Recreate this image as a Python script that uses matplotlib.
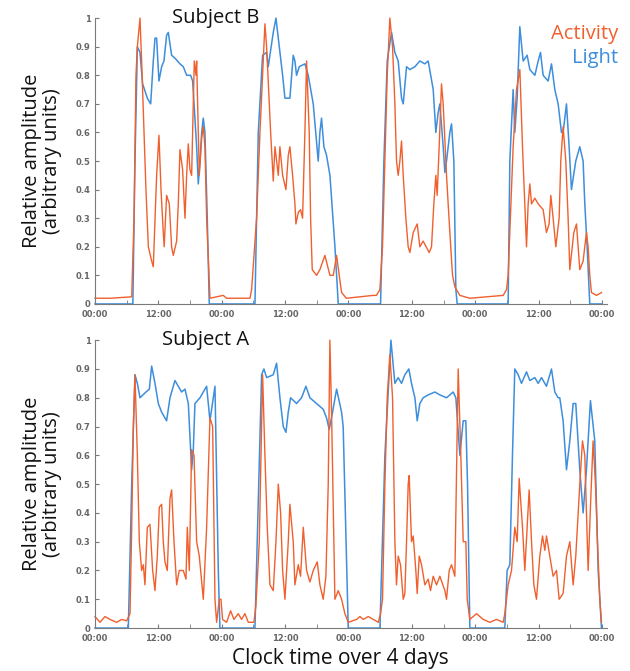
import matplotlib.pyplot as plt
from matplotlib.ticker import FixedLocator

# hours since first midnight, relative amplitude
b_act_t = [0, 2.84, 6.95, 7.39, 7.76, 8.02, 8.52, 8.83, 9.28, 9.65, 10.1, 10.73, 11.04, 11.67, 12.11,
           12.5, 12.93, 13.1, 13.56, 14.07, 14.51, 14.83, 15.46, 15.77, 16.09, 16.59, 17.04, 17.35,
           17.67, 17.98, 18.3, 18.8, 19.12, 19.25, 19.75, 20.2, 20.5, 20.82, 21.14, 21.77, 24.29,
           24.92, 29.34, 29.66, 30.6, 31.24, 32.18, 32.5, 33.0, 33.26, 33.76, 34.08, 34.39, 34.71,
           35.02, 35.53, 36.16, 36.6, 36.91, 37.42, 37.86, 38.05, 38.49, 38.93, 39.31, 39.75, 40.07,
           40.57, 40.83, 41.14, 41.96, 42.59, 43.54, 44.49, 45.12, 45.75, 46.25, 46.7, 47.6, 52.7,
           53.3, 53.95, 54.45, 54.9, 55.34, 55.84, 56.35, 56.79, 57.1, 57.42, 57.74, 58.05, 58.37,
           58.87, 59.31, 59.63, 60.26, 61.02, 61.52, 62.15, 63.29, 63.73, 64.17, 64.55, 64.8, 65.18,
           65.62, 65.94, 66.57, 67.2, 67.71, 68.15, 68.47, 69.1, 71.0, 77.3, 77.93, 78.24, 78.88,
           79.19, 79.83, 80.46, 80.96, 81.4, 81.72, 82.03, 82.35, 82.67, 83.3, 83.93, 84.87, 85.5,
           86.0, 86.32, 86.76, 87.27, 87.9, 88.21, 88.65, 89.16, 89.6, 89.92, 90.68, 91.18, 91.81,
           92.44, 93.07, 93.39, 93.7, 94.02, 94.97, 95.92]
b_act_v = [0.02, 0.02, 0.025, 0.3, 0.8, 0.9, 1.0, 0.85, 0.6, 0.4, 0.2, 0.15, 0.13, 0.45, 0.59,
           0.4, 0.25, 0.2, 0.38, 0.35, 0.2, 0.17, 0.22, 0.35, 0.54, 0.47, 0.3, 0.45,
           0.56, 0.47, 0.45, 0.85, 0.8, 0.85, 0.45, 0.58, 0.62, 0.55, 0.3, 0.02, 0.03,
           0.02, 0.02, 0.05, 0.3, 0.6, 0.98, 0.9, 0.7, 0.6, 0.43, 0.55, 0.5, 0.45,
           0.55, 0.45, 0.4, 0.52, 0.55, 0.45, 0.35, 0.28, 0.32, 0.33, 0.3, 0.6, 0.85,
           0.6, 0.3, 0.12, 0.1, 0.12, 0.17, 0.1, 0.1, 0.17, 0.1, 0.04, 0.02, 0.03,
           0.03, 0.05, 0.2, 0.5, 0.8, 1.0, 0.9, 0.7, 0.5, 0.45, 0.5, 0.57, 0.45,
           0.3, 0.2, 0.18, 0.25, 0.28, 0.2, 0.22, 0.18, 0.2, 0.35, 0.45, 0.38, 0.55,
           0.77, 0.7, 0.45, 0.25, 0.1, 0.06, 0.05, 0.03, 0.02, 0.03, 0.05, 0.1, 0.4,
           0.55, 0.75, 0.82, 0.55, 0.35, 0.2, 0.35, 0.42, 0.35, 0.37, 0.35, 0.33, 0.25,
           0.28, 0.38, 0.3, 0.2, 0.3, 0.5, 0.62, 0.5, 0.3, 0.12, 0.25, 0.28, 0.12,
           0.15, 0.25, 0.2, 0.1, 0.04, 0.03, 0.04]

b_light_t = [0, 7.17, 7.57, 8.02, 8.52, 9.02, 9.91, 10.54, 11.04, 11.36, 11.67, 12.11, 12.62, 13.06,
             13.56, 13.88, 14.51, 15.14, 16.09, 16.72, 17.35, 18.11, 18.49, 19.25, 19.56, 19.88,
             20.2, 20.5, 20.82, 21.26, 21.64, 30.29, 30.92, 31.74, 32.5, 32.81, 33.76, 34.27, 34.9,
             35.53, 35.97, 36.91, 37.54, 37.86, 38.17, 38.68, 39.75, 40.38, 41.33, 42.27, 42.59,
             42.9, 43.35, 43.85, 44.49, 45.44, 46.07, 54.08, 54.71, 55.34, 56.16, 56.79, 57.42,
             58.05, 58.37, 59.0, 59.63, 60.58, 61.52, 62.47, 63.1, 64.05, 64.55, 64.99, 65.31,
             65.94, 66.26, 66.57, 67.2, 67.52, 67.96, 68.34, 68.59, 78.24, 78.56, 79.19, 79.5,
             79.95, 80.45, 81.08, 81.84, 82.35, 83.3, 83.93, 84.37, 84.87, 85.82, 86.45, 87.08,
             87.71, 88.34, 88.65, 89.29, 89.79, 90.23, 91.05, 91.81, 92.44, 92.76, 93.2, 93.7, 96]
b_light_v = [0, 0, 0.5, 0.9, 0.88, 0.77, 0.72, 0.7, 0.85, 0.93, 0.93, 0.78, 0.83, 0.85,
             0.94, 0.95, 0.87, 0.86, 0.84, 0.83, 0.8, 0.8, 0.78, 0.55, 0.42, 0.5,
             0.6, 0.65, 0.6, 0.3, 0, 0, 0.6, 0.87, 0.88, 0.83, 0.95, 1.0, 0.9,
             0.8, 0.72, 0.72, 0.87, 0.85, 0.8, 0.83, 0.84, 0.8, 0.7, 0.5, 0.6,
             0.65, 0.55, 0.52, 0.45, 0.2, 0, 0, 0.5, 0.85, 0.95, 0.88, 0.85,
             0.72, 0.7, 0.83, 0.82, 0.83, 0.85, 0.84, 0.85, 0.75, 0.6, 0.67, 0.7,
             0.55, 0.46, 0.5, 0.6, 0.63, 0.5, 0.05, 0, 0, 0.5, 0.75, 0.6,
             0.72, 0.97, 0.85, 0.87, 0.82, 0.8, 0.85, 0.88, 0.8, 0.78, 0.84, 0.75,
             0.7, 0.6, 0.6, 0.7, 0.55, 0.4, 0.5, 0.55, 0.5, 0.35, 0.2, 0, 0]

a_act_t = [0, 0.95, 1.89, 2.84, 4.1, 5.05, 6.0, 6.63, 6.95, 7.26, 7.57, 8.02, 8.39, 8.83, 9.15, 9.46,
           9.91, 10.41, 10.92, 11.36, 11.8, 12.18, 12.62, 12.93, 13.25, 13.69, 14.2, 14.51, 14.96,
           15.46, 15.96, 16.72, 17.23, 17.48, 17.86, 18.3, 18.75, 19.25, 19.75, 20.51, 21.14, 21.77,
           22.28, 22.72, 23.03, 23.54, 23.85, 24.16, 24.92, 25.68, 26.31, 27.13, 27.76, 28.39, 29.03,
           30.1, 30.48, 31.11, 31.74, 32.18, 32.62, 33.13, 33.76, 34.27, 34.71, 35.15, 35.53, 35.97,
           36.6, 36.91, 37.54, 37.86, 38.49, 38.93, 39.44, 40.07, 40.7, 41.33, 42.09, 42.59, 43.22,
           43.73, 44.17, 44.48, 44.8, 45.43, 46.07, 46.7, 47.33, 47.96, 49.54, 50.17, 50.8, 51.75,
           52.7, 53.65, 54.08, 54.45, 54.9, 55.34, 55.84, 56.35, 56.79, 57.1, 57.42, 57.86, 58.37,
           58.68, 59.0, 59.31, 59.5, 59.94, 60.26, 60.76, 61.02, 61.4, 61.84, 62.47, 63.1, 63.54,
           64.05, 64.68, 65.31, 66.26, 66.57, 67.08, 67.52, 68.15, 68.78, 69.28, 69.73, 70.23, 70.49,
           70.99, 72.25, 73.52, 74.78, 76.04, 77.3, 77.61, 78.24, 78.88, 79.5, 79.95, 80.33, 80.96,
           81.4, 82.22, 82.67, 83.11, 83.61, 84.24, 84.75, 85.19, 85.5, 86.13, 86.76, 87.4, 87.9,
           88.65, 89.29, 89.92, 90.55, 91.05, 91.5, 91.81, 92.32, 92.76, 93.39, 93.89, 94.33, 94.78,
           95.16, 95.6, 95.92]
a_act_v = [0.04, 0.02, 0.04, 0.03, 0.02, 0.03, 0.025, 0.05, 0.35, 0.7, 0.88, 0.6, 0.3, 0.2, 0.22, 0.15,
           0.35, 0.36, 0.2, 0.13, 0.25, 0.42, 0.43, 0.3, 0.23, 0.2, 0.45, 0.48, 0.3,
           0.15, 0.2, 0.2, 0.17, 0.35, 0.2, 0.62, 0.6, 0.3, 0.25, 0.1, 0.35, 0.73,
           0.7, 0.1, 0.02, 0.1, 0.1, 0.03, 0.02, 0.06, 0.03, 0.05, 0.03, 0.05, 0.02,
           0.02, 0.08, 0.3, 0.88, 0.6, 0.35, 0.15, 0.13, 0.3, 0.5, 0.4, 0.2, 0.1,
           0.3, 0.43, 0.3, 0.15, 0.22, 0.18, 0.35, 0.2, 0.16, 0.2, 0.23, 0.15, 0.1,
           0.18, 0.5, 1.0, 0.75, 0.1, 0.13, 0.1, 0.05, 0.02, 0.03, 0.04, 0.03, 0.04,
           0.03, 0.02, 0.05, 0.1, 0.5, 0.8, 0.95, 0.8, 0.3, 0.15, 0.25, 0.22, 0.1,
           0.12, 0.3, 0.5, 0.53, 0.3, 0.32, 0.2, 0.12, 0.25, 0.22, 0.15, 0.17, 0.13,
           0.18, 0.15, 0.18, 0.13, 0.1, 0.2, 0.22, 0.18, 0.9, 0.6, 0.3, 0.3, 0.1,
           0.03, 0.05, 0.03, 0.02, 0.03, 0.02, 0.05, 0.15, 0.2, 0.35, 0.3, 0.52, 0.35,
           0.2, 0.48, 0.3, 0.15, 0.1, 0.25, 0.32, 0.27, 0.32, 0.25, 0.18, 0.2, 0.1,
           0.12, 0.25, 0.3, 0.15, 0.25, 0.4, 0.5, 0.65, 0.6, 0.2, 0.45, 0.65, 0.5,
           0.3, 0.1, 0.02]

a_light_t = [0, 6.31, 6.95, 7.57, 8.02, 8.52, 9.65, 10.29, 10.73, 11.36, 11.99, 12.62, 13.56, 14.2,
             15.14, 16.4, 17.04, 17.67, 18.3, 18.62, 18.93, 19.88, 21.14, 21.77, 22.4, 22.72, 23.35,
             23.66, 30.29, 31.55, 31.99, 32.5, 33.76, 34.39, 35.02, 35.65, 36.16, 36.6, 37.04, 38.17,
             39.12, 39.94, 40.7, 41.96, 43.22, 43.85, 44.36, 44.99, 45.75, 46.7, 47.0, 47.96, 53.96,
             54.9, 56.04, 56.79, 57.42, 58.05, 58.68, 59.44, 59.94, 60.58, 61.02, 61.52, 62.15,
             63.1, 64.36, 65.31, 66.57, 67.83, 68.34, 69.1, 69.73, 70.23, 70.55, 70.99, 77.61,
             78.05, 78.56, 79.06, 79.5, 80.14, 80.77, 81.72, 82.35, 83.3, 83.93, 84.56, 85.5,
             86.45, 87.08, 87.71, 88.02, 88.65, 89.29, 89.92, 90.55, 91.05, 91.81, 92.44, 93.07,
             93.83, 94.65, 95.29, 95.92, 96]
a_light_v = [0, 0, 0.5, 0.88, 0.85, 0.8, 0.82, 0.83, 0.91, 0.85, 0.78, 0.75, 0.72, 0.8,
             0.86, 0.82, 0.83, 0.78, 0.55, 0.62, 0.78, 0.8, 0.84, 0.72, 0.8, 0.84, 0.2,
             0, 0, 0.88, 0.9, 0.87, 0.88, 0.92, 0.8, 0.7, 0.68, 0.75, 0.8, 0.78,
             0.8, 0.84, 0.8, 0.78, 0.76, 0.73, 0.69, 0.75, 0.83, 0.75, 0.7, 0, 0,
             0.6, 1.0, 0.85, 0.87, 0.85, 0.88, 0.9, 0.85, 0.8, 0.72, 0.78, 0.8,
             0.81, 0.82, 0.81, 0.8, 0.82, 0.8, 0.6, 0.72, 0.72, 0.5, 0, 0,
             0.2, 0.22, 0.6, 0.9, 0.88, 0.85, 0.89, 0.86, 0.87, 0.85, 0.87, 0.84,
             0.9, 0.82, 0.8, 0.8, 0.72, 0.55, 0.65, 0.78, 0.78, 0.55, 0.4, 0.55,
             0.79, 0.65, 0.2, 0, 0]

hour_ticks = [0, 12, 24, 36, 48, 60, 72, 84, 96]
hour_labels = ["00:00", "12:00"] * 4 + ["00:00"]
minor_ticks = [6, 18, 30, 42, 54, 66, 78, 90]
amp_ticks = [i / 10 for i in range(11)]
amp_labels = ["0"] + ["%.1f" % (i / 10) for i in range(1, 10)] + ["1"]

orange = "#F0602E"
blue = "#3D8EDC"
grey = "#7a7a7a"

fig = plt.figure(figsize=(6.3, 6.71), dpi=100)
ax_b = fig.add_axes([0.1508, 0.547, 0.813, 0.426])
ax_a = fig.add_axes([0.1508, 0.064, 0.813, 0.429])

panels = [(ax_b, b_act_t, b_act_v, b_light_t, b_light_v, "Subject B", 0.235),
          (ax_a, a_act_t, a_act_v, a_light_t, a_light_v, "Subject A", 0.215)]

for ax, at, av, lt, lv, name, nx in panels:
    ax.plot(lt, lv, color=blue, lw=1.1, clip_on=False)
    ax.plot(at, av, color=orange, lw=1.0, clip_on=False)
    ax.set_xlim(0, 97)
    ax.set_ylim(0, 1.0)
    ax.set_xticks(hour_ticks)
    ax.set_xticklabels(hour_labels)
    ax.xaxis.set_minor_locator(FixedLocator(minor_ticks))
    ax.set_yticks(amp_ticks)
    ax.set_yticklabels(amp_labels)
    ax.tick_params(which="both", direction="in", length=3, color=grey,
                   labelsize=6, labelcolor="#666666")
    ax.tick_params(axis="x", pad=4)
    ax.tick_params(axis="y", pad=3)
    for lab in ax.get_xticklabels() + ax.get_yticklabels():
        lab.set_fontweight("bold")
    for s in ["top", "right"]:
        ax.spines[s].set_visible(False)
    for s in ["left", "bottom"]:
        ax.spines[s].set_color(grey)
        ax.spines[s].set_linewidth(0.8)
    ax.text(nx, 1.035, name, transform=ax.transAxes, ha="center", va="top",
            fontsize=14.5, family="Open Sans", color="#111111")
    pos = ax.get_position()
    fig.text(0.066, pos.y0 + pos.height / 2, "Relative amplitude\n(arbitrary units)",
             rotation=90, ha="center", va="center", fontsize=14.5,
             family="Open Sans", color="#111111", linespacing=1.0)

fig.text(0.981, 0.950, "Activity", ha="right", va="center", fontsize=14.5,
         family="Open Sans", color=orange)
fig.text(0.981, 0.913, "Light", ha="right", va="center", fontsize=14.5,
         family="Open Sans", color=blue)
fig.text(0.54, 0.019, "Clock time over 4 days", ha="center", va="center",
         fontsize=15, family="Open Sans", color="#111111")

fig.savefig("out.png", dpi=100)
